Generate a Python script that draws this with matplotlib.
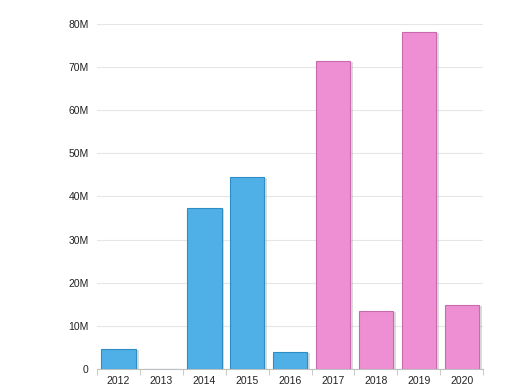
import matplotlib.pyplot as plt
import matplotlib.patheffects as pe

plt.rcParams['font.family'] = ['Liberation Sans', 'DejaVu Sans']

# Values per year
years = ['2012', '2013', '2014', '2015', '2016', '2017', '2018', '2019', '2020']
values = [4.6e6, 0, 37.3e6, 44.5e6, 3.9e6, 71.5e6, 13.5e6, 78.2e6, 14.8e6]
colors = ['#4eb0e7'] * 5 + ['#ee8fd4'] * 4
edges = ['#2f8cc4'] * 5 + ['#c76bae'] * 4

fig = plt.figure(figsize=(5.14, 3.92), dpi=100)
ax = fig.add_axes([0.189, 0.059, 0.751, 0.880])

x = range(len(years))
bars = ax.bar(x, values, width=0.8, color=colors, edgecolor=edges, linewidth=0.8, zorder=3)
for b in bars:
    b.set_path_effects([pe.SimplePatchShadow(offset=(2, -1), shadow_rgbFace='#999999', alpha=0.35),
                        pe.Normal()])

ax.set_xlim(-0.5, len(years) - 0.5)
ax.set_ylim(0, 80e6)
yt = [0, 10e6, 20e6, 30e6, 40e6, 50e6, 60e6, 70e6, 80e6]
ax.set_yticks(yt)
ax.set_yticklabels(['0'] + ['%dM' % (v / 1e6) for v in yt[1:]])
ax.set_xticks(list(x))
ax.set_xticklabels(years)
ax.set_xticks([i - 0.5 for i in range(len(years) + 1)], minor=True)

ax.grid(axis='y', color='#e6e6e6', linewidth=0.8, zorder=0)
for s in ['top', 'right', 'left']:
    ax.spines[s].set_visible(False)
ax.spines['bottom'].set_color('#c0c0c0')
ax.tick_params(axis='y', length=0, pad=6, labelsize=7.5, labelcolor='#222222')
ax.tick_params(axis='x', which='major', length=0, pad=5, labelsize=7.5, labelcolor='#222222')
ax.tick_params(axis='x', which='minor', length=4, color='#c0c0c0')

plt.savefig('out.png', dpi=100)
